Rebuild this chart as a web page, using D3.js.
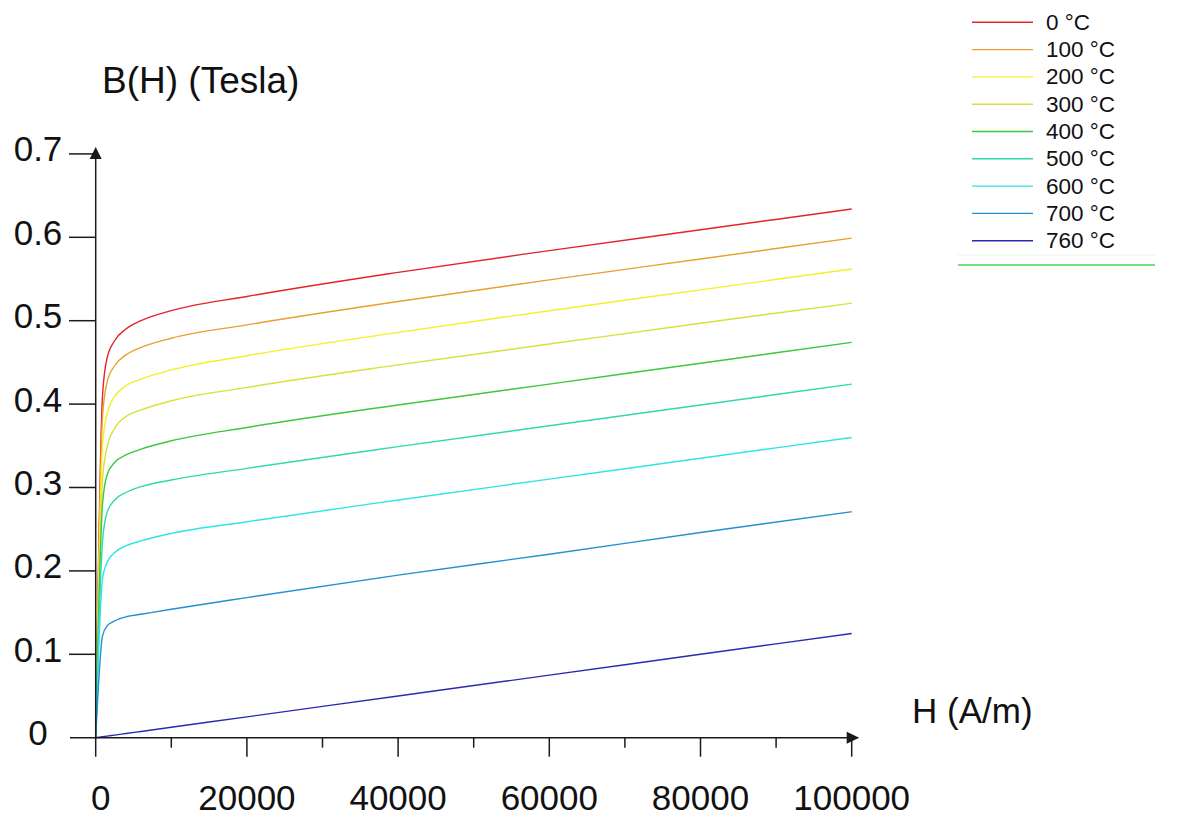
<!DOCTYPE html>
<html>
<head>
<meta charset="utf-8">
<script src="https://cdn.jsdelivr.net/npm/d3@7"></script>
<style>
  html, body { margin: 0; padding: 0; background: #fff; }
  text { font-family: "Liberation Sans", Arial, Helvetica, sans-serif; fill: #111; }
</style>
</head>
<body>
<svg id="chart" width="1181" height="816"></svg>
<script>
// ---- data ----
const H = [0, 900, 1500, 2500, 4000, 6000, 10000, 20000, 40000, 60000, 80000, 100000];
const temperatures = ["0 °C", "100 °C", "200 °C", "300 °C", "400 °C", "500 °C", "600 °C", "700 °C", "760 °C"];
const B_0   = [0, 0.410, 0.455, 0.476, 0.490, 0.500, 0.512, 0.529, 0.558, 0.584, 0.609, 0.634];
const B_100 = [0, 0.385, 0.426, 0.446, 0.459, 0.468, 0.479, 0.495, 0.523, 0.549, 0.574, 0.599];
const B_200 = [0, 0.350, 0.388, 0.409, 0.422, 0.430, 0.441, 0.458, 0.486, 0.512, 0.537, 0.562];
const B_300 = [0, 0.310, 0.348, 0.371, 0.385, 0.393, 0.404, 0.420, 0.447, 0.472, 0.497, 0.521];
const B_400 = [0, 0.280, 0.315, 0.330, 0.339, 0.346, 0.356, 0.372, 0.399, 0.424, 0.449, 0.474];
const B_500 = [0, 0.235, 0.270, 0.285, 0.294, 0.301, 0.309, 0.323, 0.349, 0.374, 0.399, 0.424];
const B_600 = [0, 0.190, 0.210, 0.222, 0.230, 0.236, 0.245, 0.259, 0.285, 0.310, 0.335, 0.360];
const B_700 = [0, 0.122, 0.134, 0.140, 0.145, 0.148, 0.154, 0.168, 0.195, 0.220, 0.246, 0.271];
const B_760 = [0, 0.0011, 0.0019, 0.0031, 0.005, 0.0075, 0.0125, 0.025, 0.050, 0.075, 0.100, 0.125];
const seriesValues = [B_0, B_100, B_200, B_300, B_400, B_500, B_600, B_700, B_760];
const colors = ["#e3242b", "#e8a030", "#f7ee2a", "#d8e03a", "#3cc83c", "#30d8b0", "#30e4e4", "#2090d0", "#2a2ab0"];

const xMajorTicks = [0, 20000, 40000, 60000, 80000, 100000];
const xMinorTicks = [10000, 30000, 50000, 70000, 90000];
const yTicks = [0, 0.1, 0.2, 0.3, 0.4, 0.5, 0.6, 0.7];
const yTickLabels = ["0", "0.1", "0.2", "0.3", "0.4", "0.5", "0.6", "0.7"];
const xTickLabels = ["0", "20000", "40000", "60000", "80000", "100000"];

// ---- scales ----
const x = d3.scaleLinear().domain([0, 100000]).range([95.7, 851.7]);
const y = d3.scaleLinear().domain([0, 0.7]).range([737.7, 153.9]);

const svg = d3.select("#chart");
const axisColor = "#1a1a1a";

// curves
const line = d3.line()
  .x((d, i) => x(H[i]))
  .y(d => y(d))
  .curve(d3.curveMonotoneX);

svg.append("g").selectAll("path")
  .data(seriesValues)
  .join("path")
  .attr("d", d => line(d))
  .attr("fill", "none")
  .attr("stroke", (d, i) => colors[i])
  .attr("stroke-width", 1.4);

// x axis
const gx = svg.append("g");
gx.append("line")
  .attr("x1", 70).attr("x2", x(100000) + 2)
  .attr("y1", y(0)).attr("y2", y(0))
  .attr("stroke", axisColor).attr("stroke-width", 1.5);
gx.append("path")
  .attr("d", `M${x(100000) - 5},${y(0) - 6} L${x(100000) + 7.5},${y(0)} L${x(100000) - 5},${y(0) + 6} Z`)
  .attr("fill", axisColor);
gx.selectAll("line.major").data(xMajorTicks).join("line")
  .attr("class", "major")
  .attr("x1", d => x(d)).attr("x2", d => x(d))
  .attr("y1", y(0)).attr("y2", y(0) + 19)
  .attr("stroke", axisColor).attr("stroke-width", 1.5);
gx.selectAll("line.minor").data(xMinorTicks).join("line")
  .attr("class", "minor")
  .attr("x1", d => x(d)).attr("x2", d => x(d))
  .attr("y1", y(0)).attr("y2", y(0) + 10)
  .attr("stroke", axisColor).attr("stroke-width", 1.5);
gx.selectAll("text").data(xMajorTicks).join("text")
  .attr("x", (d, i) => x(d) + (i === 0 ? 5 : 0))
  .attr("y", 810)
  .attr("text-anchor", "middle")
  .attr("font-size", 35)
  .text((d, i) => xTickLabels[i]);

// y axis
const gy = svg.append("g");
gy.append("line")
  .attr("x1", x(0)).attr("x2", x(0))
  .attr("y1", y(0)).attr("y2", y(0.7) - 4)
  .attr("stroke", axisColor).attr("stroke-width", 1.5);
gy.append("path")
  .attr("d", `M${x(0) - 6},${y(0.7) + 5} L${x(0)},${y(0.7) - 7} L${x(0) + 6},${y(0.7) + 5} Z`)
  .attr("fill", axisColor);
gy.selectAll("line.tick").data(yTicks.slice(1)).join("line")
  .attr("class", "tick")
  .attr("x1", 69).attr("x2", x(0))
  .attr("y1", d => y(d)).attr("y2", d => y(d))
  .attr("stroke", axisColor).attr("stroke-width", 1.5);
gy.selectAll("text").data(yTicks).join("text")
  .attr("x", 38)
  .attr("y", d => y(d) + 7.5)
  .attr("text-anchor", "middle")
  .attr("font-size", 35)
  .text((d, i) => yTickLabels[i]);

// axis titles
svg.append("text").attr("x", 102).attr("y", 93).attr("font-size", 37).text("B(H) (Tesla)");
svg.append("text").attr("x", 912).attr("y", 723).attr("font-size", 35).text("H (A/m)");

// legend
const legend = svg.append("g");
const legendY0 = 22.3, legendStep = 27.3;
legend.selectAll("line").data(temperatures).join("line")
  .attr("x1", 972).attr("x2", 1033)
  .attr("y1", (d, i) => legendY0 + i * legendStep)
  .attr("y2", (d, i) => legendY0 + i * legendStep)
  .attr("stroke", (d, i) => colors[i]).attr("stroke-width", 1.4);
legend.selectAll("text").data(temperatures).join("text")
  .attr("x", 1046)
  .attr("y", (d, i) => legendY0 + i * legendStep + 7.5)
  .attr("font-size", 22.5)
  .text(d => d);
legend.append("line")
  .attr("x1", 958).attr("x2", 1155).attr("y1", 255).attr("y2", 255)
  .attr("stroke", "#eef8ee").attr("stroke-width", 1.5);
legend.append("line")
  .attr("x1", 958).attr("x2", 1155).attr("y1", 265).attr("y2", 265)
  .attr("stroke", "#50d050").attr("stroke-width", 1.6);
</script>
</body>
</html>
